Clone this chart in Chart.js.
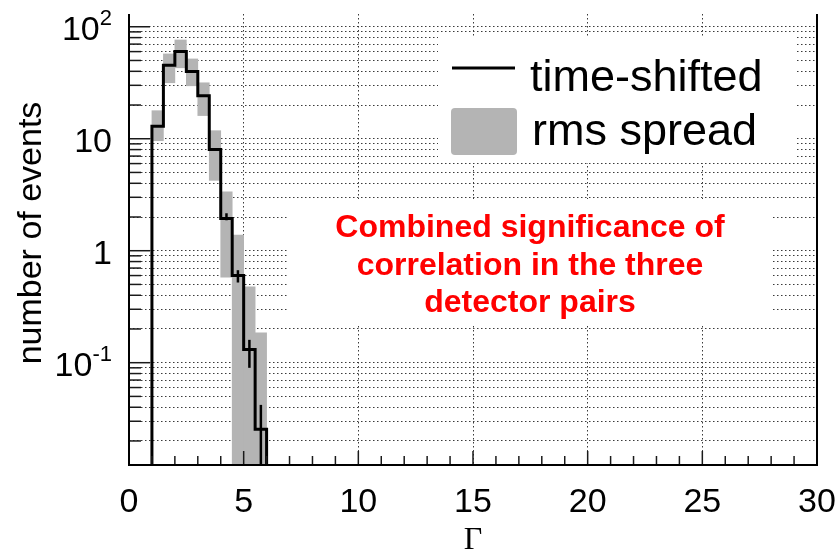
<!DOCTYPE html>
<html>
<head>
<meta charset="utf-8">
<script src="https://cdn.jsdelivr.net/npm/chart.js@4.4.1/dist/chart.umd.min.js"></script>
<style>
  html, body { margin: 0; padding: 0; background: #fff; }
  #wrap { width: 837px; height: 556px; }
</style>
</head>
<body>
<div id="wrap"><canvas id="gamma-chart" width="837" height="556"></canvas></div>
<script>
// histogram of combined significance, bins of 0.5
const BIN_EDGES = [1.0, 1.5, 2.0, 2.5, 3.0, 3.5, 4.0, 4.5, 5.0, 5.5, 6.0];
const SHIFTED_COUNTS = [12.9, 45.4, 60, 39.8, 24.2, 8.0, 1.94, 0.6, 0.131, 0.0255];
const RMS_LOW = [9.6, 31.6, 43, 29.7, 16.1, 4.25, 0.58, 0, 0, 0];
const RMS_HIGH = [17.8, 57.2, 76.2, 51.6, 31.6, 11.8, 3.35, 1.38, 0.475, 0.185];

// error bars on the tail bins
const ERR_BINS = [6, 7, 8, 9];
const ERR_LOW = [1.87, 0.52, 0.09, 0];
const ERR_HIGH = [2.16, 0.67, 0.16, 0.042];

const X_MIN = 0, X_MAX = 30;
const X_LABELS = [0, 5, 10, 15, 20, 25, 30];
const Y_MIN = 0.0122, Y_MAX = 130;
const Y_LABEL_VALUES = [100, 10, 1, 0.1];
const Y_LABEL_BASE = ['10', '10', '1', '10'];
const Y_LABEL_SUP = ['2', '', '', '-1'];

const LEGEND_LABELS = ['time-shifted', 'rms spread'];
const NOTE_LINES = ['Combined significance of', 'correlation in the three', 'detector pairs'];

const GREY = '#b4b4b4';
const DOT_COLOR = '#3a3a3a';

// a log axis can't take zero, so zero counts sit on the axis floor
const floorLog = v => (v > 0 ? v : Y_MIN);

const binCenters = SHIFTED_COUNTS.map((_, i) => (BIN_EDGES[i] + BIN_EDGES[i + 1]) / 2);

// step outline: start and end on the axis
const stepPoints = [{ x: BIN_EDGES[0], y: Y_MIN }];
SHIFTED_COUNTS.forEach((c, i) => stepPoints.push({ x: BIN_EDGES[i], y: c }));
stepPoints.push({ x: BIN_EDGES[BIN_EDGES.length - 1], y: Y_MIN });

const spreadBars = binCenters.map((x, i) => ({ x: x, y: [floorLog(RMS_LOW[i]), RMS_HIGH[i]] }));

// log minor ticks 2..9 x 10^n inside the range
function logTickValues() {
    const vals = [];
    for (let e = -2; e <= 2; e++) {
        for (let k = 1; k <= 9; k++) {
            const v = parseFloat((k * Math.pow(10, e)).toPrecision(3));
            if (v > Y_MIN && v < Y_MAX) vals.push(v);
        }
    }
    return vals;
}
const isDecade = v => Math.abs(Math.log10(v) - Math.round(Math.log10(v))) < 1e-9;

const boxesPlugin = {
    id: 'boxes',
    beforeDatasetsDraw(chart) {
        const ctx = chart.ctx;
        ctx.save();
        ctx.fillStyle = '#fff';
        ctx.fillRect(438, 37, 357, 126);   // legend
        ctx.fillRect(288, 199, 484, 127);  // note
        ctx.restore();
    }
};

const framePlugin = {
    id: 'frame',
    afterDatasetsDraw(chart) {
        const ctx = chart.ctx;
        const { left, right, top, bottom } = chart.chartArea;
        const xs = chart.scales.x, ys = chart.scales.y;
        ctx.save();

        // tail error bars
        ctx.strokeStyle = '#000';
        ctx.lineWidth = 2.5;
        ERR_BINS.forEach((b, i) => {
            const px = xs.getPixelForValue(binCenters[b]);
            ctx.beginPath();
            ctx.moveTo(px, ys.getPixelForValue(ERR_HIGH[i]));
            ctx.lineTo(px, ys.getPixelForValue(floorLog(ERR_LOW[i])));
            ctx.stroke();
        });

        // inward tick marks
        ctx.strokeStyle = '#1a1a1a';
        ctx.lineWidth = 1.5;
        ys.ticks.forEach(t => {
            const py = ys.getPixelForValue(t.value);
            ctx.beginPath();
            ctx.moveTo(left, py);
            ctx.lineTo(left + (isDecade(t.value) ? 21 : 12), py);
            ctx.stroke();
        });
        for (let v = X_MIN; v <= X_MAX; v++) {
            const px = xs.getPixelForValue(v);
            ctx.beginPath();
            ctx.moveTo(px, bottom);
            ctx.lineTo(px, bottom - (v % 5 === 0 ? 14 : 9));
            ctx.stroke();
        }

        // axis frame
        ctx.strokeStyle = '#000';
        ctx.lineWidth = 2;
        ctx.beginPath();
        ctx.moveTo(left, top);
        ctx.lineTo(left, bottom);
        ctx.lineTo(right, bottom);
        ctx.lineTo(right, top);
        ctx.stroke();

        // tick labels
        ctx.fillStyle = '#000';
        ctx.font = '34px "Liberation Sans", Arial, sans-serif';
        ctx.textAlign = 'center';
        ctx.textBaseline = 'middle';
        X_LABELS.forEach(v => ctx.fillText(String(v), xs.getPixelForValue(v), bottom + 38));

        Y_LABEL_VALUES.forEach((v, i) => {
            const py = ys.getPixelForValue(v) + 4;
            const xr = left - 17;
            ctx.font = '22px "Liberation Sans", Arial, sans-serif';
            const supW = Y_LABEL_SUP[i] ? ctx.measureText(Y_LABEL_SUP[i]).width : 0;
            if (Y_LABEL_SUP[i]) {
                ctx.textAlign = 'right';
                ctx.fillText(Y_LABEL_SUP[i], xr, py - 12);
            }
            ctx.font = '34px "Liberation Sans", Arial, sans-serif';
            ctx.textAlign = 'right';
            ctx.fillText(Y_LABEL_BASE[i], xr - supW, py);
        });

        // axis titles
        ctx.textAlign = 'center';
        ctx.font = '34px "Liberation Sans", Arial, sans-serif';
        ctx.save();
        ctx.translate(32, 233);
        ctx.rotate(-Math.PI / 2);
        ctx.fillText('number of events', 0, 0);
        ctx.restore();
        ctx.font = '32px "Liberation Serif", "Times New Roman", serif';
        ctx.fillText('\u0393', (left + right) / 2, 541);

        // legend
        const ds = chart.data.datasets;
        ctx.strokeStyle = '#000';
        ctx.lineWidth = 3;
        ctx.beginPath();
        ctx.moveTo(452, 68);
        ctx.lineTo(515, 68);
        ctx.stroke();
        ctx.fillStyle = GREY;
        ctx.beginPath();
        ctx.roundRect(451, 108, 66, 47, 4);
        ctx.fill();
        ctx.fillStyle = '#000';
        ctx.textAlign = 'left';
        ctx.textBaseline = 'alphabetic';
        ctx.font = '45px "Liberation Sans", Arial, sans-serif';
        ctx.fillText(ds[1].label, 530, 91);
        ctx.fillText(ds[0].label, 532, 145);

        // note
        ctx.fillStyle = '#ff0000';
        ctx.textAlign = 'center';
        ctx.font = 'bold 32px "Liberation Sans", Arial, sans-serif';
        [237, 275, 312].forEach((by, i) => ctx.fillText(NOTE_LINES[i], 530, by));

        ctx.restore();
    }
};

const chart = new Chart(document.getElementById('gamma-chart'), {
    data: {
        datasets: [{
            type: 'bar',
            label: LEGEND_LABELS[1],
            data: spreadBars,
            backgroundColor: GREY,
            borderWidth: 0,
            barPercentage: 1.0,
            categoryPercentage: 1.0,
            order: 2
        }, {
            type: 'line',
            label: LEGEND_LABELS[0],
            data: stepPoints,
            stepped: true,
            borderColor: '#000',
            borderWidth: 3,
            pointRadius: 0,
            fill: false,
            order: 1
        }]
    },
    options: {
        animation: false, responsive: false, maintainAspectRatio: false,
        layout: { padding: { top: 14, right: 20, left: 0, bottom: 0 } },
        scales: {
            x: {
                type: 'linear', min: X_MIN, max: X_MAX, offset: false,
                ticks: { display: false, stepSize: 1 },
                afterFit: s => { s.height = 91; },
                grid: {
                    offset: false,
                    drawTicks: false,
                    lineWidth: 1,
                    color: c => (c.tick && c.tick.value % 5 === 0 && c.tick.value > X_MIN && c.tick.value < X_MAX) ? DOT_COLOR : 'rgba(0,0,0,0)'
                },
                border: { display: false, dash: [1.5, 2.5] }
            },
            y: {
                type: 'logarithmic', min: Y_MIN, max: Y_MAX,
                ticks: { display: false },
                afterBuildTicks: s => { s.ticks = logTickValues().map(v => ({ value: v })); },
                afterFit: s => { s.width = 129; },
                grid: { drawTicks: false, lineWidth: 1, color: DOT_COLOR },
                border: { display: false, dash: [1.5, 2.5] }
            }
        },
        plugins: { legend: { display: false }, tooltip: { enabled: false } }
    },
    plugins: [boxesPlugin, framePlugin]
});
</script>
</body>
</html>
